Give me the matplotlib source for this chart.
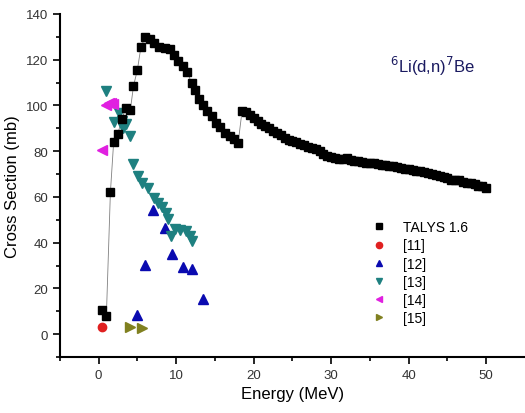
import numpy as np
import matplotlib.pyplot as plt

plt.rcParams['font.family'] = ['Liberation Sans', 'DejaVu Sans']

# TALYS 1.6 calculation
talys_e = [0.44, 1.0, 1.52, 1.94, 2.45, 3.0, 3.5, 4.1, 4.5, 5.0, 5.46, 6.0, 6.57,
           7.17, 7.85, 8.6, 9.2, 9.74, 10.3, 10.86, 11.45, 12.0, 12.44, 13.0,
           13.5, 13.95, 14.6, 15.15, 15.7, 16.3, 16.95, 17.5, 18.0,
           18.5, 19.0, 19.5, 20.0, 20.5, 21.0, 21.5, 22.0, 22.5, 23.0, 23.5,
           24.0, 24.5, 25.0, 25.5, 26.0, 26.5, 27.0, 27.5, 28.0, 28.5, 29.0,
           29.5, 30.0, 30.5, 31.0, 31.5, 32.0, 32.5, 33.0, 33.5, 34.0, 34.5,
           35.0, 35.5, 36.0, 36.5, 37.0, 37.5, 38.0, 38.5, 39.0, 39.5, 40.0,
           40.5, 41.0, 41.5, 42.0, 42.5, 43.0, 43.5, 44.0, 44.5, 45.0, 45.5,
           46.0, 46.5, 47.0, 47.5, 48.0, 48.5, 49.0, 49.5, 50.0]
talys_xs = [10.8, 7.9, 62, 84, 87.3, 93.9, 99, 98.2, 108.5, 115.5, 125.6, 129.7, 129,
            127.2, 125.7, 124.9, 124.6, 122, 119.4, 117.2, 114.6, 109.6, 106.7, 102.6,
            100, 97.5, 95.3, 92.4, 90.7, 88, 86.5, 85.5, 83.6,
            97.5, 97, 95.8, 94.6, 93.2, 92, 91.2, 90.2, 88.7, 88, 87.2,
            85.8, 85, 84.4, 83.9, 83.3, 82.5, 82, 81.6, 81, 80, 78.8,
            77.7, 77.3, 77, 76.4, 76.6, 77, 76, 75.6, 75.6, 75.3, 74.9,
            74.9, 74.8, 74.3, 74, 73.8, 73.6, 73.4, 73, 72.6, 72.3, 72,
            71.6, 71.4, 71.2, 71, 70.6, 70, 69.6, 69, 68.6, 68.1, 67.6,
            67.4, 67.2, 66.7, 66.2, 66, 65.6, 65, 64.6, 64]

ref11_e = [0.44]
ref11_xs = [3.2]

ref12_e = [5.0, 6.0, 7.0, 8.5, 9.5, 10.9, 12.0, 13.5]
ref12_xs = [8.6, 30.3, 54.4, 46.4, 35.2, 29.2, 28.4, 15.4]

ref13_e = [1.0, 1.97, 2.57, 3.0, 3.2, 3.5, 4.0, 4.5, 5.07, 5.6, 6.4, 7.1, 7.64,
           8.15, 8.7, 9.0, 9.4, 9.9, 10.5, 11.3, 11.8, 12.1]
ref13_xs = [106.3, 92.7, 96.8, 93.1, 90.2, 91.7, 86.5, 74.6, 69.3, 66.1, 63.9, 59.5, 57.3,
            55.4, 53.2, 50.3, 43, 45.9, 45.5, 45.2, 43, 40.9]

ref14_e = [0.44, 1.0, 1.3, 1.6, 1.9]
ref14_xs = [80.7, 100.4, 100.9, 101.2, 100.8]

ref15_e = [4.08, 5.6]
ref15_xs = [3.2, 2.9]

fig = plt.figure(figsize=(5.25, 4.14), dpi=100)
ax = fig.add_axes([0.114, 0.135, 0.886, 0.829])

ax.plot(talys_e, talys_xs, color='#808080', lw=0.6, zorder=1)
ax.plot(talys_e, talys_xs, 's', color='black', ms=5.3, ls='none', label='TALYS 1.6', zorder=3)
ax.plot(ref11_e, ref11_xs, 'o', color='#e02020', ms=6, ls='none', label='[11]')
ax.plot(ref12_e, ref12_xs, '^', color='#0a0ab0', ms=6.5, ls='none', label='[12]')
ax.plot(ref13_e, ref13_xs, 'v', color='#1e8080', ms=6.5, ls='none', label='[13]')
ax.plot(ref14_e, ref14_xs, '<', color='#e020e0', ms=6.5, ls='none', label='[14]')
ax.plot(ref15_e, ref15_xs, '>', color='#808020', ms=6.5, ls='none', label='[15]')

ax.set_xlim(-5, 55)
ax.set_ylim(-10, 140)
ax.set_xticks([0, 10, 20, 30, 40, 50])
ax.set_xticks([-5, 5, 15, 25, 35, 45], minor=True)
ax.set_yticks([0, 20, 40, 60, 80, 100, 120, 140])
ax.set_yticks([-10, 10, 30, 50, 70, 90, 110, 130], minor=True)
ax.tick_params(which='major', length=5, width=1.2, labelsize=9.5, color='black',
               labelcolor='#333333')
ax.tick_params(which='minor', length=3, width=1.2)
for s in ['top', 'right']:
    ax.spines[s].set_visible(False)
for s in ['left', 'bottom']:
    ax.spines[s].set_linewidth(1.5)

ax.set_xlabel('Energy (MeV)', fontsize=12)
ax.set_ylabel('Cross Section (mb)', fontsize=12)

ax.text(0.71, 0.83, r'$^{6}$Li(d,n)$^{7}$Be', transform=ax.transAxes,
        fontsize=12, color='#1a1a60')

ax.legend(loc='upper left', bbox_to_anchor=(0.66, 0.415), frameon=False,
          fontsize=10, handlelength=1.0, handletextpad=1.2, labelspacing=0.3,
          borderaxespad=0, markerscale=0.75)

plt.savefig('out.png', dpi=100)
